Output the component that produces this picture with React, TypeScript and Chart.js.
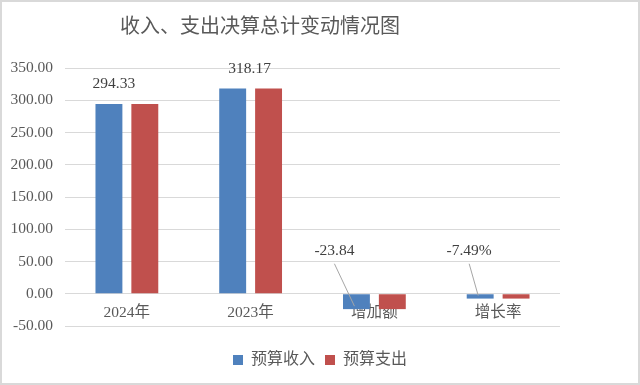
import React, { useEffect, useRef } from "react";
import { Chart, registerables } from "chart.js";

Chart.register(...registerables);

const titleText = "收入、支出决算总计变动情况图";
const categories = ["2024年", "2023年", "增加额", "增长率"];
const incomeLabel = "预算收入";
const expenseLabel = "预算支出";
const incomeValues = [294.33, 318.17, -23.84, -7.49];
const expenseValues = [294.33, 318.17, -23.84, -7.49];
const incomeValueLabels = ["294.33", "318.17", "-23.84", "-7.49%"];
const yTicks = [-50, 0, 50, 100, 150, 200, 250, 300, 350];

const FONT = '"Liberation Serif", "Times New Roman", "Noto Sans CJK SC", serif';

// label placement relative to each bar (style, not data)
const labelOffsets = [
  { dx: 5, dy: -20 },
  { dx: 17, dy: -20 },
  { dx: -22, dy: -43 },
  { dx: -11, dy: -43 },
];

const dataLabelPlugin = {
  id: "dataLabels",
  afterDatasetsDraw(chart: any) {
    const ctx = chart.ctx;
    const meta = chart.getDatasetMeta(0);
    const yScale = chart.scales.y;
    const zeroY = yScale.getPixelForValue(0);
    ctx.save();
    ctx.font = `15.5px ${FONT}`;
    ctx.textAlign = "center";
    ctx.textBaseline = "middle";
    meta.data.forEach((bar: any, i: number) => {
      const v = incomeValues[i];
      const off = labelOffsets[i];
      const x = bar.x + off.dx;
      let y;
      if (v >= 0) {
        y = bar.y + off.dy;
      } else {
        y = zeroY + off.dy;
        ctx.strokeStyle = "#a6a6a6";
        ctx.lineWidth = 1;
        ctx.beginPath();
        ctx.moveTo(x, y + 13);
        ctx.lineTo(bar.x - 2, bar.y - 3);
        ctx.stroke();
      }
      ctx.fillStyle = "#404040";
      ctx.fillText(incomeValueLabels[i], x, y);
    });
    ctx.restore();
  },
};

const frameTitlePlugin = {
  id: "frameTitle",
  beforeDraw(chart: any) {
    const ctx = chart.ctx;
    ctx.save();
    ctx.fillStyle = "#ffffff";
    ctx.fillRect(0, 0, chart.width, chart.height);
    ctx.restore();
  },
  afterDraw(chart: any) {
    const ctx = chart.ctx;
    ctx.save();
    ctx.font = '20px "Noto Sans CJK SC", sans-serif';
    ctx.fillStyle = "#595959";
    ctx.textAlign = "center";
    ctx.textBaseline = "middle";
    ctx.fillText(titleText, 260, 25);
    ctx.strokeStyle = "#d9d9d9";
    ctx.lineWidth = 2;
    ctx.strokeRect(1, 1, chart.width - 2, chart.height - 2);
    ctx.restore();
  },
};

export default function App() {
  const canvasRef = useRef<HTMLCanvasElement | null>(null);

  useEffect(() => {
    if (!canvasRef.current) return;
    const chart = new Chart(canvasRef.current, {
      type: "bar",
      data: {
        labels: categories,
        datasets: [
          {
            label: incomeLabel,
            data: incomeValues,
            backgroundColor: "#4f81bd",
            categoryPercentage: 0.58,
            barPercentage: 0.75,
            xAxisID: "x",
            yAxisID: "y",
          },
          {
            label: expenseLabel,
            data: expenseValues,
            backgroundColor: "#c0504d",
            categoryPercentage: 0.58,
            barPercentage: 0.75,
            xAxisID: "x",
            yAxisID: "y",
          },
        ],
      },
      options: {
        animation: false,
        responsive: false,
        maintainAspectRatio: false,
        layout: { padding: { left: 0, right: 0, top: 68, bottom: 7 } },
        plugins: {
          title: { display: false },
          legend: {
            position: "bottom",
            labels: {
              boxWidth: 10,
              boxHeight: 10,
              color: "#595959",
              font: { family: FONT, size: 16 },
              padding: 10,
            },
          },
          tooltip: { enabled: false },
        },
        scales: {
          x: {
            position: { y: 0 },
            grid: { display: false, drawTicks: false },
            border: { display: false },
            ticks: {
              color: "#595959",
              font: { family: FONT, size: 15.5 },
              padding: 10,
              maxRotation: 0,
            },
            afterFit: (s: any) => {
              s.height = 0;
            },
          },
          xPad: {
            type: "category",
            position: "bottom",
            display: true,
            grid: { display: false, drawTicks: false },
            border: { display: false },
            ticks: { display: false },
            afterFit: (s: any) => {
              s.height = 16;
            },
          },
          y: {
            min: -50,
            max: 350,
            afterBuildTicks: (s: any) => {
              s.ticks = yTicks.map((v) => ({ value: v }));
            },
            grid: { color: "#d9d9d9", drawTicks: false },
            border: { display: false },
            ticks: {
              color: "#595959",
              font: { family: FONT, size: 15.5 },
              padding: 12,
              callback: (v: any) => Number(v).toFixed(2),
            },
            afterFit: (s: any) => {
              s.width = 65;
            },
          },
          yRight: {
            type: "linear",
            position: "right",
            display: true,
            grid: { display: false, drawTicks: false },
            border: { display: false },
            ticks: { display: false },
            afterFit: (s: any) => {
              s.width = 80;
            },
          },
        },
      },
      plugins: [dataLabelPlugin, frameTitlePlugin],
    });
    return () => chart.destroy();
  }, []);

  return (
    <div style={{ position: "fixed", left: 0, top: 0, width: 640, height: 385 }}>
      <canvas ref={canvasRef} width={640} height={385} style={{ width: 640, height: 385 }} />
    </div>
  );
}
